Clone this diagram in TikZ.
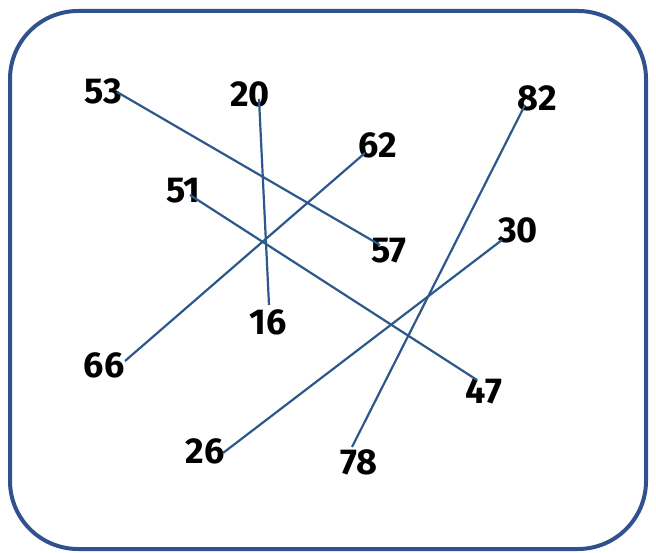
\documentclass[tikz,border=0pt]{standalone}
\usepackage{fontspec}
\setmainfont{Fira Sans}
\definecolor{frameblue}{RGB}{47,82,143}
\definecolor{lineblue}{RGB}{44,88,140}
\begin{document}
\begin{tikzpicture}[x=1pt,y=-1pt,
  num/.style={font=\fontsize{36}{36}\selectfont\bfseries, text=black, inner sep=0pt},
  link/.style={draw=lineblue, line width=2.2pt},
  frame/.style={draw=frameblue, line width=4pt, rounded corners=68pt}]
\useasboundingbox (0,0) rectangle (656,553);
\draw[frame] (10,11) rectangle (646,549);
% labels
\node[num] (n53) at (103,91) {53};
\node[num] (n20) at (250,94) {20};
\node[num] (n62) at (378,145) {62};
\node[num] (n57) at (389,251) {57};
\node[num] (n51) at (183,191) {51};
\node[num] (n16) at (268,322) {16};
\node[num] (n66) at (104,365) {66};
\node[num] (n26) at (205,451) {26};
\node[num] (n82) at (537,98) {82};
\node[num] (n30) at (518,230) {30};
\node[num] (n47) at (484,391) {47};
\node[num] (n78) at (359,462) {78};
% connector ends
\coordinate (c53) at (117,92);
\coordinate (c57) at (380,245);
\coordinate (c20) at (259,99);
\coordinate (c16) at (269,305);
\coordinate (c62) at (365,153);
\coordinate (c66) at (125,361);
\coordinate (c51) at (190,195);
\coordinate (c47) at (477,380);
\coordinate (c82) at (525,105);
\coordinate (c78) at (352,447);
\coordinate (c30) at (502,240);
\coordinate (c26) at (223,453);
\draw[link] (c53) -- (c57);
\draw[link] (c20) -- (c16);
\draw[link] (c62) -- (c66);
\draw[link] (c51) -- (c47);
\draw[link] (c82) -- (c78);
\draw[link] (c30) -- (c26);
\end{tikzpicture}
\end{document}
